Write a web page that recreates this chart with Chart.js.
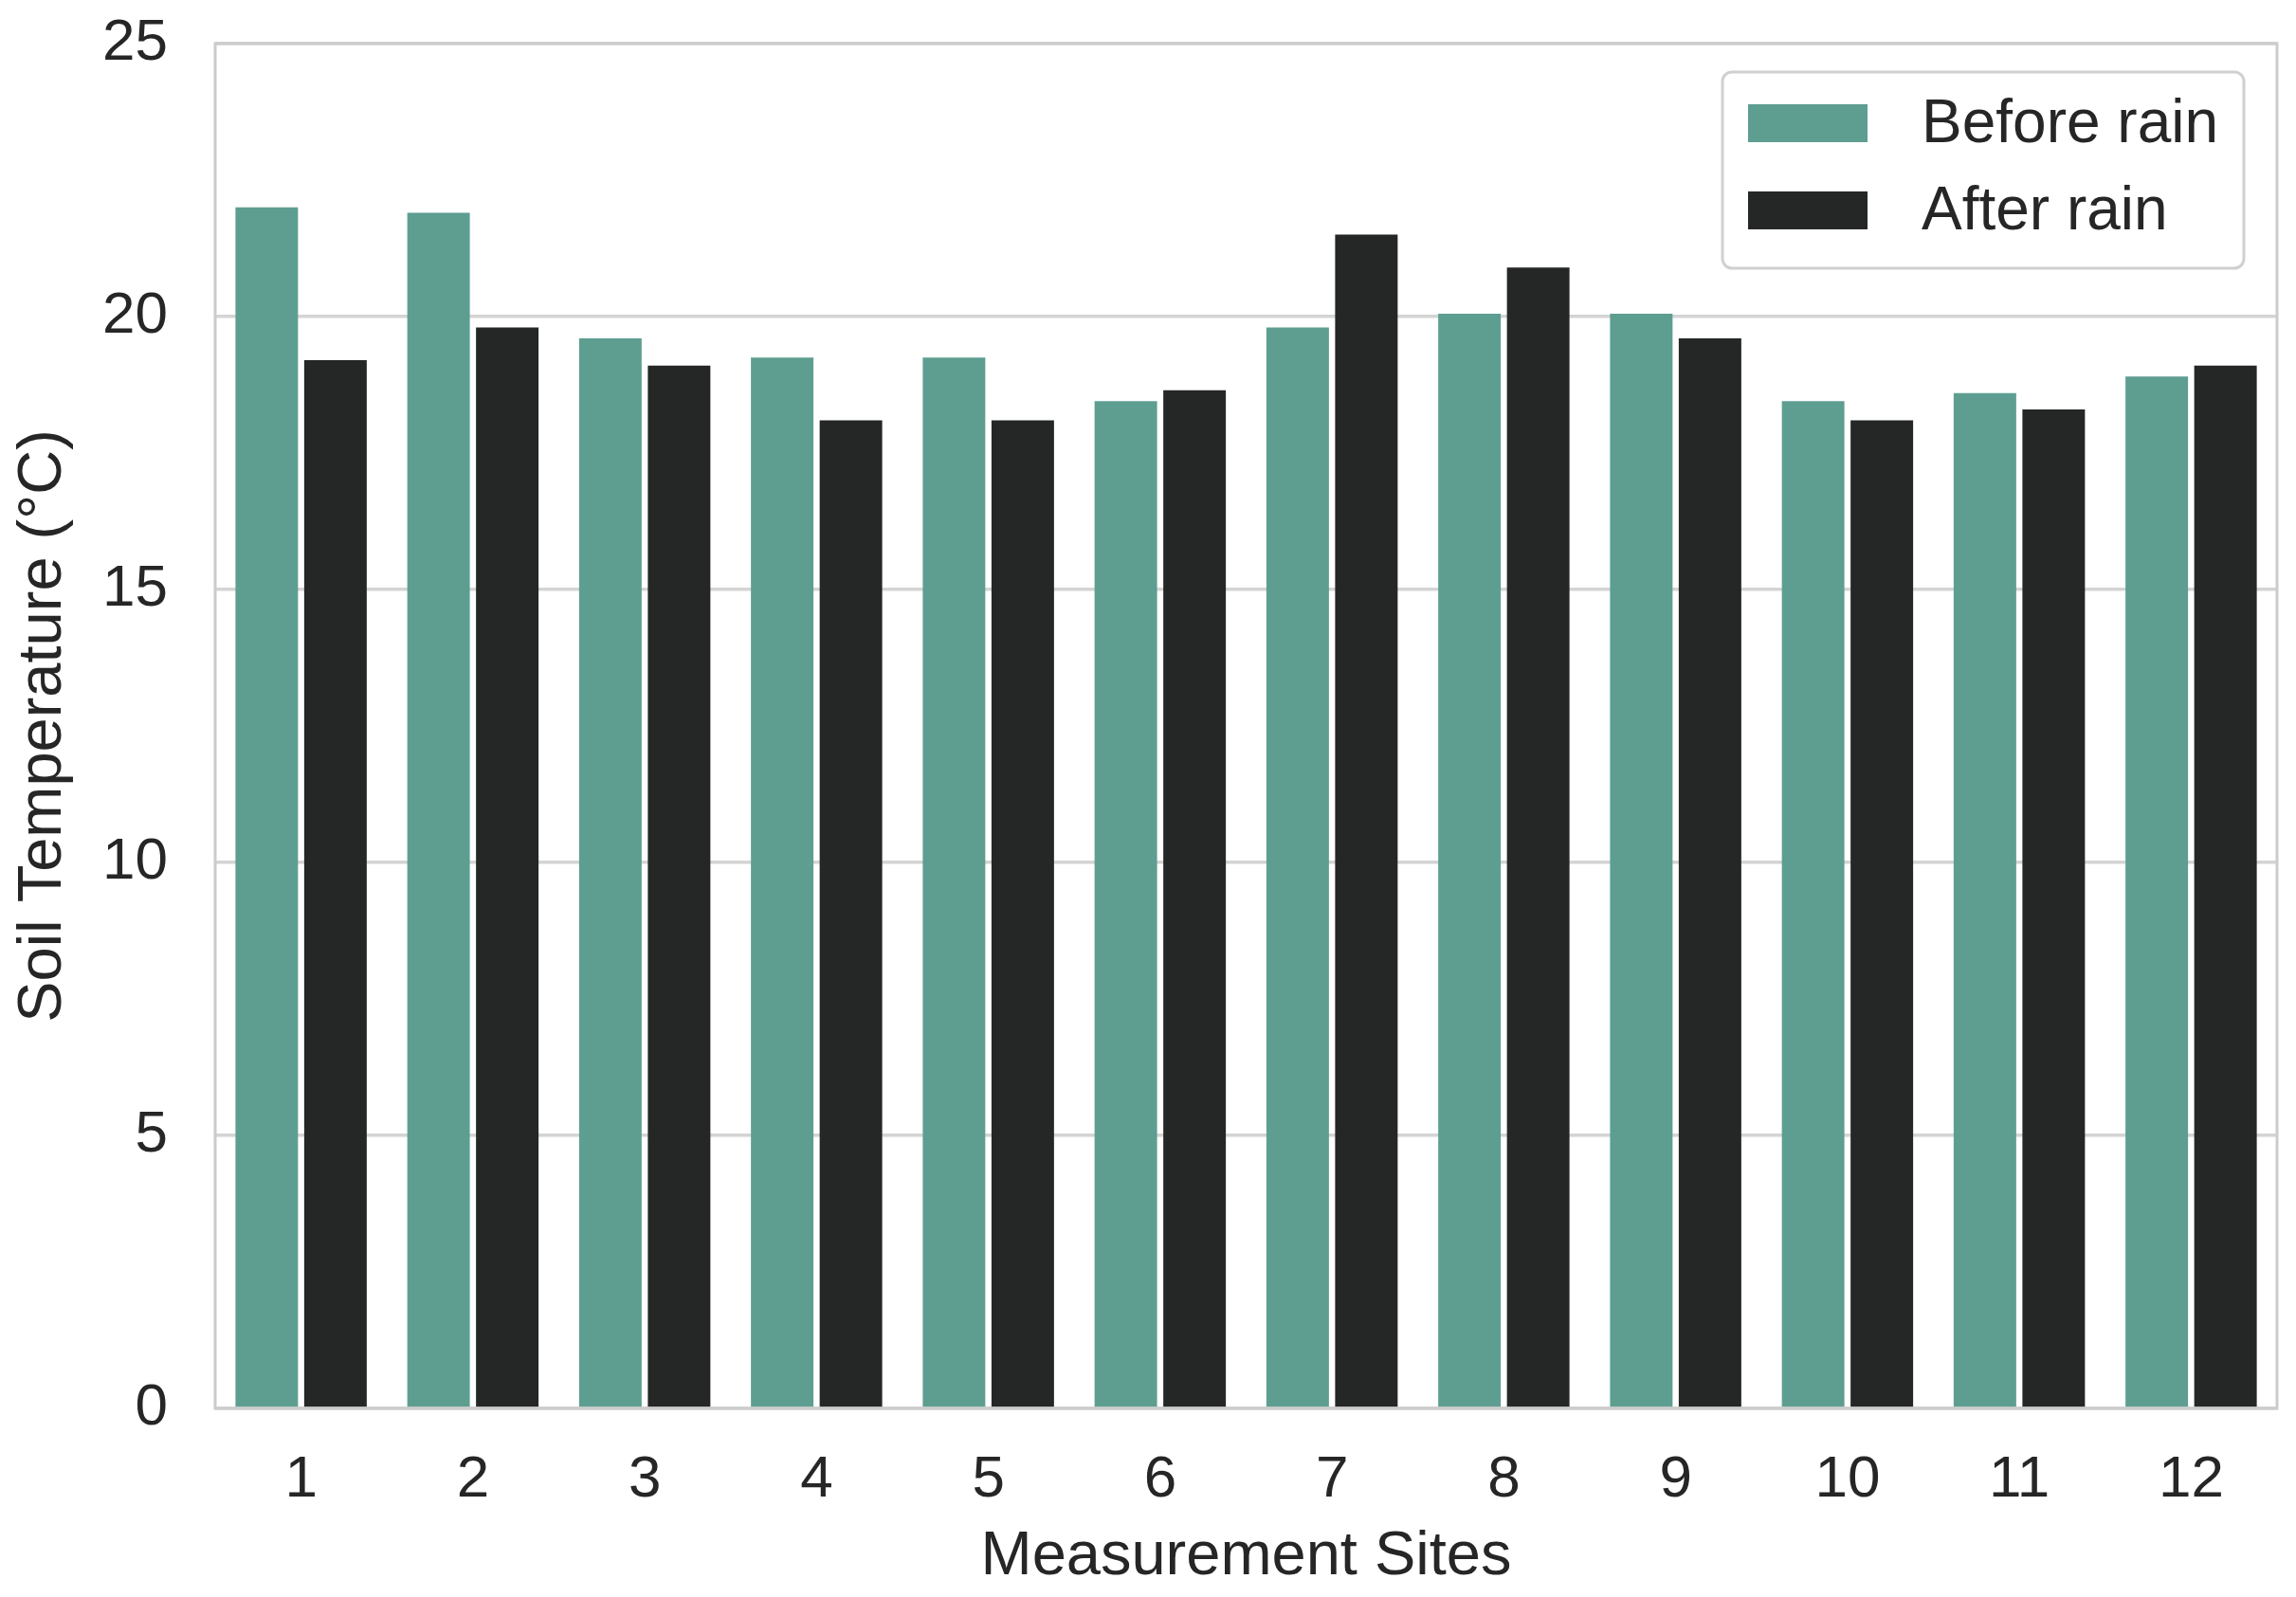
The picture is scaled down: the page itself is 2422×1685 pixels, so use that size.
<!DOCTYPE html>
<html>
<head>
<meta charset="utf-8">
<script src="https://cdn.jsdelivr.net/npm/chart.js@4.4.1/dist/chart.umd.min.js"></script>
<style>
  html, body { margin: 0; padding: 0; background: #ffffff; }
  #wrap { width: 2422px; height: 1685px; }
</style>
</head>
<body>
<div id="wrap"><canvas id="c" width="2422" height="1685"></canvas></div>
<script>
const sites = ['1','2','3','4','5','6','7','8','9','10','11','12'];
const seriesNames = ['Before rain', 'After rain'];
const beforeRain = [22.0, 21.9, 19.6, 19.25, 19.25, 18.45, 19.8, 20.05, 20.05, 18.45, 18.6, 18.9];
const afterRain  = [19.2, 19.8, 19.1, 18.1, 18.1, 18.65, 21.5, 20.9, 19.6, 18.1, 18.3, 19.1];
const yMin = 0, yMax = 25, yStep = 5;
const xTitle = 'Measurement Sites';
const yTitle = 'Soil Temperature (°C)';

const FONT = '"Liberation Sans", Arial, "DejaVu Sans", sans-serif';
const TEXT = '#262626';
const TEAL = '#5e9e91';
const DARK = '#252726';

const framePlugin = {
  id: 'frame',
  afterDraw(chart) {
    const {ctx, chartArea: a} = chart;
    ctx.save();
    ctx.strokeStyle = '#cccccc';
    ctx.lineWidth = 3;
    ctx.strokeRect(a.left, a.top, a.right - a.left, a.bottom - a.top);
    ctx.restore();
  }
};

const legendPlugin = {
  id: 'boxLegend',
  afterDraw(chart) {
    const {ctx, chartArea: a} = chart;
    const w = 550, h = 207;
    const x = a.right - 35 - w, y = a.top + 30;
    ctx.save();
    ctx.beginPath();
    ctx.roundRect(x, y, w, h, 10);
    ctx.fillStyle = 'rgba(255,255,255,0.85)';
    ctx.fill();
    ctx.strokeStyle = '#d0d0d0';
    ctx.lineWidth = 3;
    ctx.stroke();
    ctx.font = '64px ' + FONT;
    ctx.textBaseline = 'middle';
    ctx.textAlign = 'left';
    chart.data.datasets.forEach((ds, i) => {
      const cy = y + 54 + i * 92;
      ctx.fillStyle = ds.backgroundColor;
      ctx.fillRect(x + 27, cy - 20, 126, 40);
      ctx.fillStyle = TEXT;
      ctx.fillText(ds.label, x + 210, cy + 2);
    });
    ctx.restore();
  }
};

new Chart(document.getElementById('c'), {
  type: 'bar',
  data: {
    labels: sites,
    datasets: [
      { label: seriesNames[0], data: beforeRain, backgroundColor: TEAL, borderWidth: 0 },
      { label: seriesNames[1], data: afterRain, backgroundColor: DARK, borderWidth: 0 }
    ]
  },
  options: {
    responsive: false,
    animation: false,
    devicePixelRatio: 1,
    layout: { padding: { left: 0, right: 20, top: 46, bottom: 0 } },
    datasets: { bar: { categoryPercentage: 0.8, barPercentage: 0.91 } },
    plugins: {
      legend: { display: false },
      tooltip: { enabled: false }
    },
    scales: {
      x: {
        grid: { display: false, drawTicks: false },
        border: { display: false },
        ticks: { color: TEXT, font: { family: FONT, size: 62 }, padding: 39, maxRotation: 0 },
        title: { display: true, text: xTitle, color: TEXT, font: { family: FONT, size: 65 }, padding: { top: 0, bottom: 3 } },
        afterFit(scale) { scale.height = 199; scale.paddingLeft = 0; scale.paddingRight = 0; }
      },
      y: {
        min: yMin, max: yMax,
        grid: { color: '#d4d4d4', lineWidth: 3.5, drawTicks: false },
        border: { display: false },
        ticks: { stepSize: yStep, color: TEXT, font: { family: FONT, size: 62 }, padding: 50 },
        title: { display: true, text: yTitle, color: TEXT, font: { family: FONT, size: 65 }, padding: { top: 7, bottom: 0 } },
        afterFit(scale) { scale.width = 227; scale.paddingTop = 0; scale.paddingBottom = 0; }
      }
    }
  },
  plugins: [framePlugin, legendPlugin]
});
</script>
</body>
</html>
